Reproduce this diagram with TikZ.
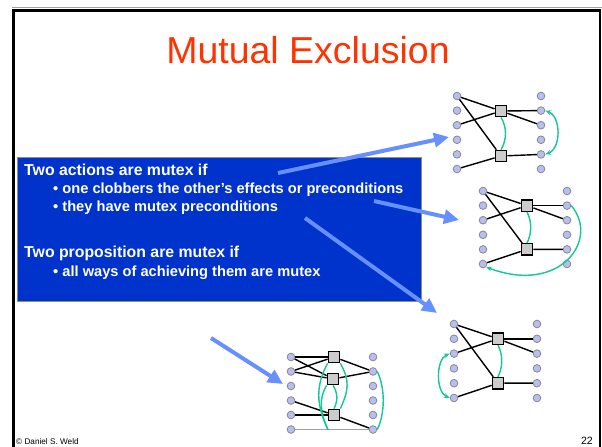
\documentclass[tikz,border=0pt]{standalone}
\usepackage{fontspec}
\setmainfont{Liberation Sans}
\usetikzlibrary{arrows.meta, calc}
\definecolor{titlered}{HTML}{FF3300}
\definecolor{boxblue}{HTML}{0033CC}
\definecolor{boxedge}{HTML}{8C8C8C}
\definecolor{pointblue}{HTML}{6690FF}
\definecolor{propfill}{HTML}{B8BEF2}
\definecolor{propedge}{HTML}{8A8A8A}
\definecolor{actfill}{HTML}{CCCCCC}
\definecolor{graymid}{HTML}{A0A0A0}
\definecolor{mutexgreen}{HTML}{14C896}

\begin{document}
\begin{tikzpicture}[
    x=0.03cm, y=-0.03cm,
    every node/.style={align=left},
    slidetitle/.style={font=\fontsize{32}{36}\selectfont, text=titlered},
    infobox/.style={
        draw=boxedge, line width=0.5pt, fill=boxblue,
        minimum width=12.12cm, minimum height=4.32cm, inner sep=0pt
    },
    heading/.style={font=\fontsize{13.5}{16}\selectfont\bfseries, text=white, anchor=base west, inner sep=0pt},
    bullet/.style={font=\fontsize{12.5}{15}\selectfont\bfseries, text=white, anchor=base west, inner sep=0pt},
    pointer/.style={
        -{Triangle[length=0.45cm, width=0.42cm]},
        line width=0.12cm, draw=pointblue
    },
    prop/.style={circle, draw=propedge, fill=propfill, line width=0.7pt, minimum size=0.23cm, inner sep=0pt},
    act/.style={rectangle, draw=black, fill=actfill, line width=1.2pt, minimum size=0.34cm, inner sep=0pt},
    link/.style={draw=black, line width=1.2pt},
    noopline/.style={draw=graymid, line width=1pt},
    mutex/.style={draw=mutexgreen, line width=1.2pt},
    mutexarrow/.style={mutex, {Stealth[length=5pt, width=4pt]}-{Stealth[length=5pt, width=4pt]}},
    mutexend/.style={mutex, -{Stealth[length=5pt, width=4pt]}},
    footer/.style={font=\fontsize{7}{8}\selectfont, inner sep=0pt}
]

\useasboundingbox (0,0) rectangle (602,447);
\clip (0,0) rectangle (602,447);

% slide frame
\draw[graymid, line width=0.04cm] (12,7.6) -- (602,7.6);
\draw[black, line width=0.07cm] (13.5,10.5) rectangle (600,470);

\node[slidetitle] (title) at (308,50) {Mutual Exclusion};

% text box
\node[infobox] (info) at (219,229) {};
\node[heading] (act1) at (24,175) {Two actions are mutex if};
\node[bullet]  (act2) at (53,193) {• one clobbers the other’s effects or preconditions};
\node[bullet]  (act3) at (53,211) {• they have mutex preconditions};
\node[heading] (prop1) at (24,257) {Two proposition are mutex if};
\node[bullet]  (prop2) at (53,276) {• all ways of achieving them are mutex};

% graph 1: clobbering
\foreach \i in {0,...,5} {
    \node[prop] (g1l\i) at (457, 96+14.6*\i) {};
    \node[prop] (g1r\i) at (541, 96+14.6*\i) {};
}
\node[act] (g1a) at (501,111) {};
\node[act] (g1b) at (501,156) {};
\draw[link] (g1l0) -- (g1a);
\draw[link] (g1l2) -- (g1a);
\draw[link] (g1l0) -- (g1b);
\draw[link] (g1l5) -- (g1b);
\draw[link] (g1a) -- (g1r1);
\draw[link] (g1a) -- (g1r2);
\draw[link] (g1b) -- (g1r4);
\draw[mutex] (g1a.south) .. controls +(6,10) and +(6,-10) .. (g1b.north);
\draw[mutexarrow] (g1r1.east) .. controls +(16,6) and +(16,-6) .. (g1r4.east);

% graph 2: effect deletes a precondition
\foreach \i in {0,...,5} {
    \node[prop] (g2l\i) at (483, 191+14.6*\i) {};
    \node[prop] (g2r\i) at (567, 191+14.6*\i) {};
}
\node[act] (g2a) at (527,205.6) {};
\node[act] (g2b) at (527,249.4) {};
\draw[link] (g2l0) -- (g2a);
\draw[link] (g2l2) -- (g2a);
\draw[link] (g2l0) -- (g2b);
\draw[link] (g2l5) -- (g2b);
\draw[link] (g2a) -- (g2r1);
\draw[link] (g2a) -- (g2r2);
\draw[link] (g2b) -- (g2r4);
\draw[mutex] (g2a.south) .. controls +(5,10) and +(5,-10) .. (g2b.north);
\draw[mutexend] (g2r1.east) .. controls +(29,34) and +(74,28) .. (g2l5.south east);

% graph 3: mutex preconditions
\foreach \i in {0,...,5} {
    \node[prop] (g3l\i) at (454, 324+14.8*\i) {};
    \node[prop] (g3r\i) at (537, 324+14.8*\i) {};
}
\node[act] (g3a) at (498,338.8) {};
\node[act] (g3b) at (498,383.2) {};
\draw[link] (g3l0) -- (g3a);
\draw[link] (g3l2) -- (g3a);
\draw[link] (g3l0) -- (g3b);
\draw[link] (g3l5) -- (g3b);
\draw[link] (g3a) -- (g3r1);
\draw[link] (g3a) -- (g3r2);
\draw[link] (g3b) -- (g3r4);
\draw[mutex] (g3a.south) .. controls +(5,10) and +(5,-10) .. (g3b.north);
\draw[mutexarrow] (g3l2.west) .. controls +(-14,6) and +(-14,-6) .. (g3l5.west);

% graph 4: mutex propositions
\foreach \i in {0,...,5} {
    \node[prop] (g4l\i) at (291, 357+14.5*\i) {};
    \node[prop] (g4r\i) at (373, 357+14.5*\i) {};
}
\node[act] (g4a) at (334,357) {};
\node[act] (g4b) at (333,379) {};
\node[act] (g4c) at (334,415) {};
\coordinate (g4noop) at ($(g4l5)!0.45!(g4r5)$);
\draw[noopline] (g4l5) -- (g4r5);
\draw[link] (g4l0) -- (g4a);
\draw[link] (g4l0) -- (g4b);
\draw[link] (g4l1) -- (g4a);
\draw[link] (g4l1) -- (g4b);
\draw[link] (g4l3) -- (g4c);
\draw[link] (g4l4) -- (g4c);
\draw[link] (g4a) -- (g4r1);
\draw[link] (g4b) -- (g4r1);
\draw[link] (g4c) -- (g4r5);
\draw[mutex] (g4a.south west) .. controls +(-12,22) and +(-12,-25) .. (g4noop);
\draw[mutex] (g4a.south east) .. controls +(10,18) and +(8,-18) .. (g4c.north east);
\draw[mutex] (g4b.south west) .. controls +(-8,14) and +(-8,-18) .. (g4noop);
\draw[mutex] (g4b.south) .. controls +(5,8) and +(4,-8) .. (g4c.north);
\draw[mutex] (g4r1.east) .. controls +(8,16) and +(8,-16) .. (g4r5.east);

% pointers from the text to the graphs
\coordinate (p1s) at (278,173);
\coordinate (p1e) at (449,137);
\coordinate (p2s) at (374,201);
\coordinate (p2e) at (459,220);
\coordinate (p3s) at (305,218);
\coordinate (p3e) at (437,313);
\coordinate (p4s) at (211,338);
\coordinate (p4e) at (283,384);
\draw[pointer] (p1s) -- (p1e);
\draw[pointer] (p2s) -- (p2e);
\draw[pointer] (p3s) -- (p3e);
\draw[pointer] (p4s) -- (p4e);

% footer
\node[footer, anchor=base west] (credit) at (16,444) {© Daniel S. Weld};
\node[footer, anchor=base east, font=\fontsize{9}{10}\selectfont] (pagenum) at (593,444) {22};

\end{tikzpicture}
\end{document}
